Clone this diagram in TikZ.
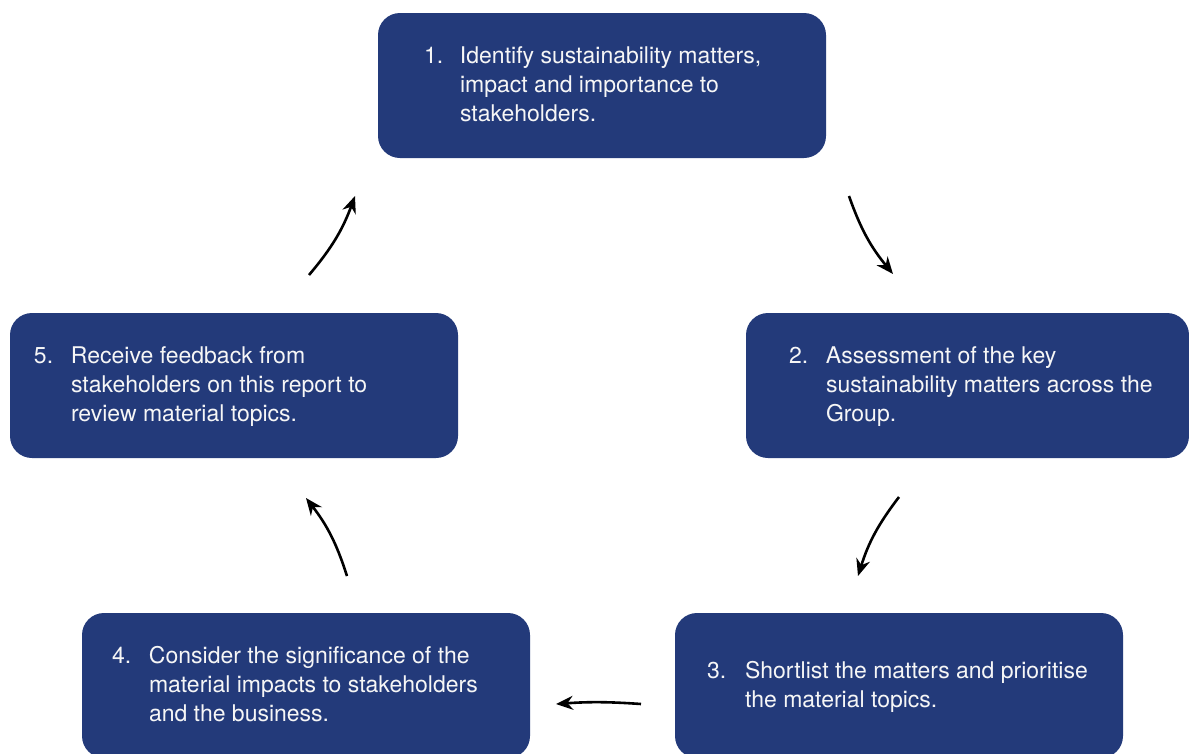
\documentclass[tikz,border=0pt]{standalone}
\usepackage{fontspec}
\setmainfont{TeX Gyre Heros}
\usetikzlibrary{arrows.meta}
\definecolor{stageBlue}{RGB}{35,58,122}
\definecolor{stageWhite}{RGB}{246,246,246}

\begin{document}
\begin{tikzpicture}[x=1pt, y=-1pt,
    stage/.style={draw=none, fill=stageBlue, rounded corners=22pt, minimum width=448pt, minimum height=145pt},
    stagetext/.style={text=stageWhite, anchor=west, inner sep=0pt, yshift=-1.5pt, font=\fontsize{23}{29}\selectfont},
    flow/.style={-{Stealth[length=17pt, width=14pt]}, line width=2.6pt, black}]
  \clip (0,0) rectangle (1189,753);

  % Stages
  \node[stage] (s1) at (602,85.5) {};
  \node[stage, minimum width=443pt] (s2) at (967.5,385.5) {};
  \node[stage] (s3) at (899,685.5) {};
  \node[stage] (s4) at (306,685.5) {};
  \node[stage] (s5) at (234,385.5) {};

  % Stage texts
  \node[stagetext] (t1) at ([xshift=46pt]s1.west) {\begin{tabular}{@{}p{36pt}@{}l@{}}1. & Identify sustainability matters,\\ & impact and importance to\\ & stakeholders.\end{tabular}};
  \node[stagetext] (t2) at ([xshift=43pt]s2.west) {\begin{tabular}{@{}p{37pt}@{}l@{}}2. & Assessment of the key\\ & sustainability matters across the\\ & Group.\end{tabular}};
  \node[stagetext] (t3) at ([xshift=32pt]s3.west) {\begin{tabular}{@{}p{38pt}@{}l@{}}3. & Shortlist the matters and prioritise\\ & the material topics.\end{tabular}};
  \node[stagetext] (t4) at ([xshift=30pt]s4.west) {\begin{tabular}{@{}p{37pt}@{}l@{}}4. & Consider the significance of the\\ & material impacts to stakeholders\\ & and the business.\end{tabular}};
  \node[stagetext] (t5) at ([xshift=24pt]s5.west) {\begin{tabular}{@{}p{37pt}@{}l@{}}5. & Receive feedback from\\ & stakeholders on this report to\\ & review material topics.\end{tabular}};

  % Arrow ends
  \coordinate (a1s) at (849,196);
  \coordinate (a1e) at (893,274);
  \coordinate (a2s) at (899,497);
  \coordinate (a2e) at (858,576);
  \coordinate (a3s) at (641,704);
  \coordinate (a3e) at (556,704);
  \coordinate (a4s) at (347,576);
  \coordinate (a4e) at (306,498);
  \coordinate (a5s) at (309,275);
  \coordinate (a5e) at (355,196);

  % Arrows
  \draw[flow] (a1s) to[bend right=10] (a1e);
  \draw[flow] (a2s) to[bend right=10] (a2e);
  \draw[flow] (a3s) to[bend right=4] (a3e);
  \draw[flow] (a4s) to[bend right=10] (a4e);
  \draw[flow] (a5s) to[bend right=10] (a5e);
\end{tikzpicture}
\end{document}
